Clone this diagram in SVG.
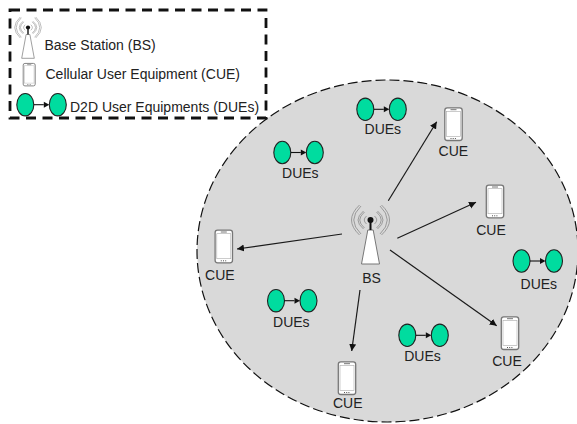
<svg xmlns="http://www.w3.org/2000/svg" width="577" height="424" viewBox="0 0 577 424">
<style>
text{font-family:"Liberation Sans",Arial,sans-serif;font-size:14px;fill:#222}
.c{text-anchor:middle}
.conn{stroke:#1a1a1a;stroke-width:1.2;fill:none;marker-end:url(#a)}
.wave{fill:none;stroke:#8a8a8a;stroke-width:.8}
.due{fill:#00dc9f;stroke:#222;stroke-width:1.1}
.ph{fill:#fff;stroke:#777;stroke-width:1.3}
</style>
<defs>
<marker id="a" markerWidth="8" markerHeight="8" refX="7" refY="3.5" orient="auto" markerUnits="userSpaceOnUse"><path d="M0 0L7 3.5L0 7z" fill="#111"/></marker>
<g id="phone"><rect x="-8.7" y="-16.8" width="17.4" height="32.6" rx="2.5" class="ph"/><rect x="-7" y="-13.3" width="14" height="25" fill="#fff" stroke="#aaa" stroke-width=".6"/><path d="M-3-15H3" stroke="#777"/><path d="M-3 13.8H3" stroke="#555" stroke-dasharray="1 1.2"/></g>
<g id="due"><ellipse cx="-16.5" cy="0" rx="8.5" ry="11.2" class="due"/><ellipse cx="16" cy="0" rx="8.5" ry="11.2" class="due"/><path d="M-8 0H2" stroke="#111" stroke-width="1.1"/><path d="M7.5 0L2 -3V3z" fill="#111"/></g>
<g id="bs"><path d="M-2.7 -20H2.7L9 14H-9z" fill="#fff" stroke="#777"/><path d="M0 -20V-30" stroke="#111" stroke-width="2"/><circle cx="0" cy="-30" r="3" fill="#111"/>
<path class="wave" d="M-4-34Q-8.5-30-4-26M4-34Q8.5-30 4-26M-6-38Q-15.5-30-6-22M6-38Q15.5-30 6-22M-7-39Q-18-30-7-21M7-39Q18-30 7-21M-9.5-44Q-24-30-9.5-16M9.5-44Q24-30 9.5-16M-11-45Q-27-30-11-15M11-45Q27-30 11-15"/></g>
</defs>
<ellipse cx="387.5" cy="251" rx="190.5" ry="171" fill="#d9d9d9" stroke="#111" stroke-width="1.2" stroke-dasharray="10 4"/>
<g id="connectors">
<path class="conn" d="M388.3 200.7L436.7 121.7"/>
<path class="conn" d="M397.3 238.3L476 202.3"/>
<path class="conn" d="M390 250L496.7 325.7"/>
<path class="conn" d="M360 290L351.7 351"/>
<path class="conn" d="M342 234L237 249"/>
</g>
<g id="legend">
<rect x="10" y="10" width="256" height="108" fill="#fff" stroke="#111" stroke-width="2.8" stroke-dasharray="10 6.5"/>
<g transform="translate(28,48.5) scale(.7)"><use href="#bs"/></g>
<text x="44.5" y="50">Base Station (BS)</text>
<g transform="translate(29.2,75) scale(.69)"><use href="#phone"/></g>
<text x="45.5" y="79">Cellular User Equipment (CUE)</text>
<g transform="translate(41.8,104.7)"><use href="#due"/></g>
<text x="70" y="111.7">D2D User Equipments (DUEs)</text>
</g>
<g id="bs-node"><use href="#bs" x="370.5" y="250"/><text class="c" x="371.5" y="283">BS</text></g>
<g id="cue1"><use href="#phone" x="453.5" y="124.7"/><text class="c" x="453.3" y="155.7">CUE</text></g>
<g id="cue2"><use href="#phone" x="495" y="202"/><text class="c" x="491" y="235">CUE</text></g>
<g id="cue3"><use href="#phone" x="510" y="333.7"/><text class="c" x="507" y="366">CUE</text></g>
<g id="cue4"><use href="#phone" x="347" y="378.7"/><text class="c" x="347.7" y="408.3">CUE</text></g>
<g id="cue5"><use href="#phone" x="223.8" y="247"/><text class="c" x="219.8" y="280">CUE</text></g>
<g id="due1"><use href="#due" x="381.8" y="109.3"/><text class="c" x="382.8" y="133.5">DUEs</text></g>
<g id="due2"><use href="#due" x="298.8" y="152.5"/><text class="c" x="300.3" y="178">DUEs</text></g>
<g id="due3"><use href="#due" x="538" y="261"/><text class="c" x="538.8" y="289.3">DUEs</text></g>
<g id="due4"><use href="#due" x="292.5" y="300.7"/><text class="c" x="291.3" y="327.3">DUEs</text></g>
<g id="due5"><use href="#due" x="423.8" y="335.3"/><text class="c" x="422.5" y="360.7">DUEs</text></g>
</svg>
